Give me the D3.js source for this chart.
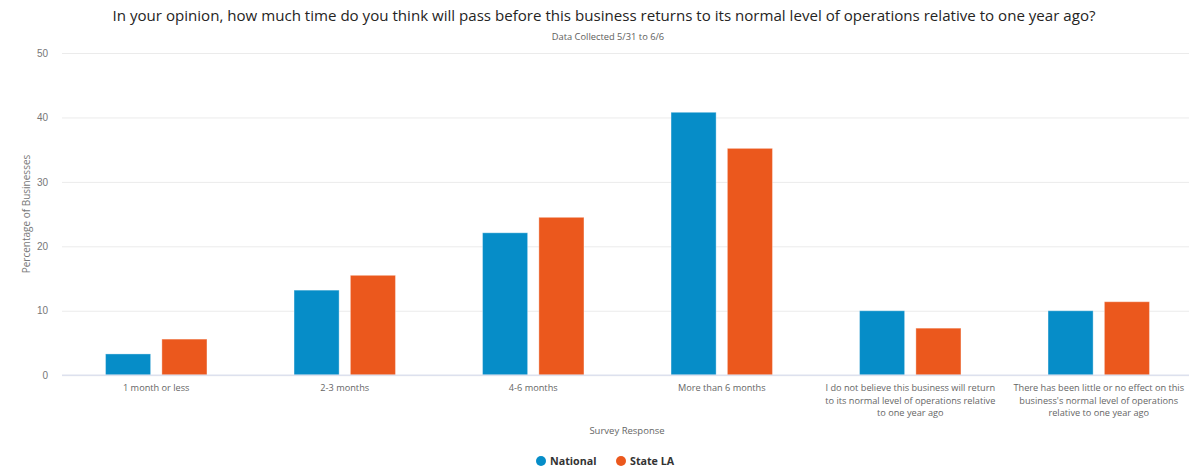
<!DOCTYPE html>
<html>
<head>
<meta charset="utf-8">
<script src="https://cdn.jsdelivr.net/npm/d3@7"></script>
<style>
  body { margin: 0; background: #fff; }
  svg { display: block; font-family: "Segoe UI", "Open Sans", "Noto Sans", sans-serif; }
</style>
</head>
<body>
<div id="chart"></div>
<script>
// data
const categories = [
  "1 month or less",
  "2-3 months",
  "4-6 months",
  "More than 6 months",
  "I do not believe this business will return to its normal level of operations relative to one year ago",
  "There has been little or no effect on this business's normal level of operations relative to one year ago"
];
const labelLines = [
  ["1 month or less"],
  ["2-3 months"],
  ["4-6 months"],
  ["More than 6 months"],
  ["I do not believe this business will return", "to its normal level of operations relative", "to one year ago"],
  ["There has been little or no effect on this", "business's normal level of operations", "relative to one year ago"]
];
const seriesNames = ["National", "State LA"];
const nationalValues = [3.3, 13.2, 22.1, 40.8, 10.0, 10.0];
const stateValues = [5.6, 15.5, 24.5, 35.2, 7.3, 11.4];
const yTicks = [0, 10, 20, 30, 40, 50];
const colors = ["#068dc8", "#eb581d"];

const width = 1189, height = 468;
const margin = { top: 53, right: -4, bottom: 93, left: 62 };

const svg = d3.select("#chart").append("svg")
  .attr("width", width)
  .attr("height", height);

// 1) scales
const x0 = d3.scaleBand()
  .domain(categories)
  .range([margin.left, width - margin.right])
  .paddingInner(0.462)
  .paddingOuter(0.231);

const x1 = d3.scaleBand()
  .domain(seriesNames)
  .range([0, x0.bandwidth()])
  .paddingInner(0.2);

const y = d3.scaleLinear()
  .domain([0, 50])
  .range([height - margin.bottom + 0.2, margin.top]);

// 2) title + subtitle
svg.append("text")
  .attr("x", 604)
  .attr("y", 21)
  .attr("text-anchor", "middle")
  .attr("font-size", 15.1)
  .attr("fill", "#252423")
  .text("In your opinion, how much time do you think will pass before this business returns to its normal level of operations relative to one year ago?");

svg.append("text")
  .attr("x", 608)
  .attr("y", 40)
  .attr("text-anchor", "middle")
  .attr("font-size", 9.3)
  .attr("fill", "#605e5c")
  .text("Data Collected 5/31 to 6/6");

// 3) gridlines + y axis labels
const yAxis = svg.append("g")
  .attr("transform", `translate(${margin.left},0)`)
  .call(d3.axisLeft(y).tickValues(yTicks).tickSize(-(width - margin.left - margin.right)).tickPadding(14));
yAxis.select(".domain").remove();
yAxis.selectAll(".tick line").attr("stroke", "#ebebeb");
yAxis.selectAll(".tick text")
  .attr("fill", "#777")
  .attr("font-size", 10)
  .style("font-family", "inherit");

svg.append("text")
  .attr("transform", "rotate(-90)")
  .attr("x", -(margin.top + height - margin.bottom) / 2)
  .attr("y", 30)
  .attr("text-anchor", "middle")
  .attr("font-size", 10)
  .attr("fill", "#777")
  .text("Percentage of Businesses");

// 4) bars
const rows = categories.map((c, i) => ({
  cat: c,
  vals: [nationalValues[i], stateValues[i]]
}));

const groups = svg.selectAll("g.grp")
  .data(rows)
  .enter().append("g")
  .attr("class", "grp")
  .attr("transform", d => `translate(${x0(d.cat)},0)`);

groups.selectAll("rect")
  .data(d => d.vals.map((v, j) => ({ key: seriesNames[j], v: v, j: j })))
  .enter().append("rect")
  .attr("x", d => x1(d.key))
  .attr("y", d => y(d.v))
  .attr("width", x1.bandwidth())
  .attr("height", d => y(0) - y(d.v))
  .attr("fill", d => colors[d.j])
  .attr("stroke", "#fff")
  .attr("stroke-opacity", 0.35)
  .attr("stroke-width", 1);

// 5) x axis line + wrapped labels
svg.append("line")
  .attr("x1", margin.left)
  .attr("x2", width)
  .attr("y1", y(0))
  .attr("y2", y(0))
  .attr("stroke", "#dde1ee")
  .attr("stroke-width", 1.5);

const xl = svg.selectAll("text.xlab")
  .data(categories)
  .enter().append("text")
  .attr("class", "xlab")
  .attr("text-anchor", "middle")
  .attr("font-size", 9.2)
  .attr("fill", "#666");
xl.each(function(d, i) {
  const t = d3.select(this);
  labelLines[i].forEach((ln, k) => {
    t.append("tspan")
      .attr("x", x0(d) + x0.bandwidth() / 2)
      .attr("y", 391 + k * 12.5)
      .text(ln);
  });
});

svg.append("text")
  .attr("x", 627)
  .attr("y", 434)
  .attr("text-anchor", "middle")
  .attr("font-size", 9.5)
  .attr("fill", "#666")
  .text("Survey Response");

// 6) legend
const legend = svg.append("g").attr("transform", "translate(541,461)");
const legX = [0, 80];
seriesNames.forEach((s, i) => {
  legend.append("circle")
    .attr("cx", legX[i])
    .attr("cy", 0)
    .attr("r", 5)
    .attr("fill", colors[i]);
  legend.append("text")
    .attr("x", legX[i] + 9)
    .attr("y", 4)
    .attr("font-size", 10.7)
    .attr("font-weight", "bold")
    .attr("fill", "#333")
    .text(s);
});
</script>
</body>
</html>
